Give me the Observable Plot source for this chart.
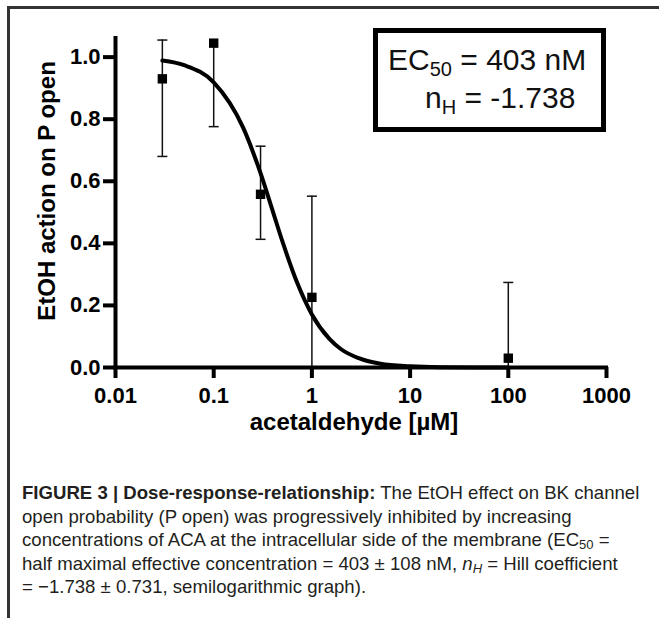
<!DOCTYPE html>
<html>
<head>
<meta charset="utf-8">
<script src="https://cdn.jsdelivr.net/npm/d3@7"></script>
<script src="https://cdn.jsdelivr.net/npm/@observablehq/plot@0.6"></script>
<style>
  html, body { margin: 0; padding: 0; background: #fff; }
  body { width: 659px; height: 618px; overflow: hidden; position: relative; font-family: "Liberation Sans", Arial, sans-serif; }
  #frame { position: absolute; left: 7px; top: 6px; width: 720px; height: 720px; border-left: 3px solid #333; border-top: 3px solid #333; }
  #chart { position: absolute; left: 0; top: 0; }
  #box { position: absolute; left: 373px; top: 28px; width: 223px; height: 94px; border: 5px solid #000; background: #fff; font-family: "Liberation Sans", Arial, sans-serif; font-size: 30px; color: #111; }
  #box .l { position: absolute; white-space: nowrap; line-height: 30px; }
  #box sub { font-size: 20px; vertical-align: -6px; line-height: 0; }
  #caption { position: absolute; left: 22px; top: 481px; font-family: "Liberation Sans", Arial, sans-serif; font-size: 18.6px; line-height: 23.5px; color: #231f20; }
  #caption div { white-space: nowrap; }
  #caption sub { font-size: 13px; vertical-align: -3px; line-height: 0; }
</style>
</head>
<body>
<div id="frame"></div>
<div id="chart"></div>
<div id="box">
  <div class="l" style="left:10px;top:12px">EC<sub>50</sub> = 403 nM</div>
  <div class="l" style="left:47px;top:50px">n<sub>H</sub> = -1.738</div>
</div>
<div id="caption">
  <div><b>FIGURE 3 | Dose-response-relationship:</b> The EtOH effect on BK channel</div>
  <div>open probability (P open) was progressively inhibited by increasing</div>
  <div>concentrations of ACA at the intracellular side of the membrane (EC<sub>50</sub> =</div>
  <div>half maximal effective concentration = 403 ± 108 nM, <i>n<sub>H</sub></i> = Hill coefficient</div>
  <div>= −1.738 ± 0.731, semilogarithmic graph).</div>
</div>
<script>
// Measured points (acetaldehyde concentration in µM)
const concentrations = [0.03, 0.1, 0.3, 1, 100];
const meanResponse   = [0.93, 1.045, 0.558, 0.226, 0.03];
const errUpper       = [1.055, null, 0.713, 0.552, 0.274];
const errLower       = [0.68, 0.776, 0.413, 0, 0];

// Fitted curve
const fitX = [0.03, 0.05, 0.1, 0.2, 0.3, 0.4, 0.5, 0.7, 1, 1.5, 2, 3, 5, 10, 20, 50, 100];
const fitY = [0.989, 0.974, 0.919, 0.772, 0.626, 0.503, 0.407, 0.277, 0.171, 0.093, 0.058, 0.030, 0.012, 0.004, 0.001, 0.0003, 0.0001];

const xTicks = [0.01, 0.1, 1, 10, 100, 1000];
const yTicks = [0, 0.2, 0.4, 0.6, 0.8, 1.0];
const xTitle = "acetaldehyde [µM]";
const yTitle = "EtOH action on P open";

const points = concentrations.map((c, i) => ({x: c, y: meanResponse[i], hi: errUpper[i], lo: errLower[i]}));
const fit = fitX.map((x, i) => ({x, y: fitY[i]}));
const caps = [];
points.forEach(p => {
  if (p.hi != null) caps.push({x: p.x, y: p.hi});
  if (p.lo != null) caps.push({x: p.x, y: p.lo});
});

const capSymbol = {draw(ctx) { ctx.moveTo(-5, 0); ctx.lineTo(5, 0); }};

const chart = Plot.plot({
  width: 659,
  height: 470,
  marginLeft: 115,
  marginRight: 53,
  marginTop: 38,
  marginBottom: 103,
  style: {fontFamily: "'Liberation Sans', Arial, sans-serif", fontWeight: "bold", fontSize: "22px", background: "transparent", color: "#000"},
  x: {type: "log", domain: [0.01, 1000]},
  y: {domain: [0, 1.06]},
  marks: [
    Plot.ruleX(points, {x: "x", y1: "lo", y2: d => d.hi ?? d.y, stroke: "#111", strokeWidth: 1.5}),
    Plot.dot(caps, {x: "x", y: "y", symbol: capSymbol, r: 5, stroke: "#111", strokeWidth: 1.5}),
    Plot.line(fit, {x: "x", y: "y", curve: "monotone-x", stroke: "#000", strokeWidth: 4}),
    Plot.dot(points, {x: "x", y: "y", symbol: "square", r: 5.3, fill: "#000"}),
    Plot.ruleY([0], {stroke: "#000", strokeWidth: 4, strokeLinecap: "square"}),
    Plot.ruleX([0.01], {stroke: "#000", strokeWidth: 4, strokeLinecap: "square"}),
    Plot.axisX({ticks: xTicks, tickFormat: d => String(d), tickSize: 11, tickPadding: 9, strokeWidth: 4, fontSize: 22, fontWeight: "bold", label: null}),
    Plot.axisY({ticks: yTicks, tickFormat: d3.format(".1f"), tickSize: 12, tickPadding: 3, strokeWidth: 4, fontSize: 22, fontWeight: "bold", label: null}),
    Plot.text([xTitle], {frameAnchor: "bottom", textAnchor: "middle", lineAnchor: "middle", dx: -7, dy: 55, fontSize: 24, fontWeight: "bold"}),
    Plot.text([yTitle], {frameAnchor: "left", textAnchor: "middle", lineAnchor: "middle", dx: -68, dy: -12, rotate: -90, fontSize: 24, fontWeight: "bold"})
  ]
});
document.getElementById("chart").appendChild(chart);
</script>
</body>
</html>
